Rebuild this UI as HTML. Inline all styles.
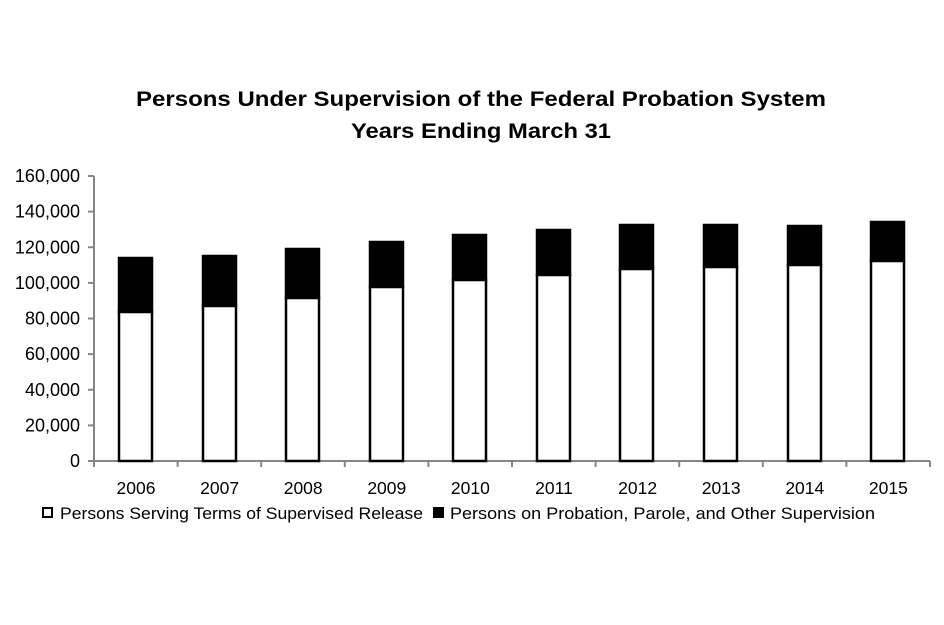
<!DOCTYPE html>
<html><head><style>body{margin:0;background:#fff}svg{display:block}</style></head><body>
<svg width="944" height="625" xmlns="http://www.w3.org/2000/svg" font-family="Liberation Sans, sans-serif">
<rect width="944" height="625" fill="#fff"/>
<text x="481" y="106" text-anchor="middle" font-size="21" font-weight="bold" textLength="690" lengthAdjust="spacingAndGlyphs">Persons Under Supervision of the Federal Probation System</text>
<text x="481" y="138" text-anchor="middle" font-size="21" font-weight="bold" textLength="260" lengthAdjust="spacingAndGlyphs">Years Ending March 31</text>
<g stroke="#868686" stroke-width="2">
<line x1="94" y1="176" x2="94" y2="462"/>
<line x1="93" y1="461" x2="930" y2="461"/>
<line x1="88" y1="176" x2="94" y2="176"/><line x1="88" y1="211.6" x2="94" y2="211.6"/><line x1="88" y1="247.25" x2="94" y2="247.25"/><line x1="88" y1="282.9" x2="94" y2="282.9"/><line x1="88" y1="318.5" x2="94" y2="318.5"/><line x1="88" y1="354.1" x2="94" y2="354.1"/><line x1="88" y1="389.75" x2="94" y2="389.75"/><line x1="88" y1="425.4" x2="94" y2="425.4"/><line x1="88" y1="461" x2="94" y2="461"/>
<line x1="94" y1="461" x2="94" y2="467"/><line x1="177.6" y1="461" x2="177.6" y2="467"/><line x1="261.2" y1="461" x2="261.2" y2="467"/><line x1="344.8" y1="461" x2="344.8" y2="467"/><line x1="428.4" y1="461" x2="428.4" y2="467"/><line x1="512" y1="461" x2="512" y2="467"/><line x1="595.6" y1="461" x2="595.6" y2="467"/><line x1="679.2" y1="461" x2="679.2" y2="467"/><line x1="762.8" y1="461" x2="762.8" y2="467"/><line x1="846.4" y1="461" x2="846.4" y2="467"/><line x1="930" y1="461" x2="930" y2="467"/>
</g>
<g font-size="18" text-anchor="end">
<text x="80" y="182">160,000</text><text x="80" y="217.6">140,000</text><text x="80" y="253.25">120,000</text><text x="80" y="288.9">100,000</text><text x="80" y="324.5">80,000</text><text x="80" y="360.1">60,000</text><text x="80" y="395.75">40,000</text><text x="80" y="431.4">20,000</text><text x="80" y="467">0</text>
</g>
<g stroke="#000" stroke-width="2.5">
<rect x="119" y="258" width="33" height="54" fill="#000"/><rect x="119" y="312" width="33" height="149" fill="#fff"/>
<rect x="203" y="256" width="33" height="50" fill="#000"/><rect x="203" y="306" width="33" height="155" fill="#fff"/>
<rect x="286" y="249" width="33" height="49" fill="#000"/><rect x="286" y="298" width="33" height="163" fill="#fff"/>
<rect x="370" y="242" width="33" height="45" fill="#000"/><rect x="370" y="287" width="33" height="174" fill="#fff"/>
<rect x="453" y="235" width="33" height="45" fill="#000"/><rect x="453" y="280" width="33" height="181" fill="#fff"/>
<rect x="537" y="230" width="33" height="45" fill="#000"/><rect x="537" y="275" width="33" height="186" fill="#fff"/>
<rect x="620" y="225" width="33" height="44" fill="#000"/><rect x="620" y="269" width="33" height="192" fill="#fff"/>
<rect x="704" y="225" width="33" height="42" fill="#000"/><rect x="704" y="267" width="33" height="194" fill="#fff"/>
<rect x="788" y="226" width="33" height="39" fill="#000"/><rect x="788" y="265" width="33" height="196" fill="#fff"/>
<rect x="871" y="222" width="33" height="39" fill="#000"/><rect x="871" y="261" width="33" height="200" fill="#fff"/>
</g>
<g font-size="17.5" text-anchor="middle">
<text x="136" y="494">2006</text><text x="219.6" y="494">2007</text><text x="303.2" y="494">2008</text><text x="386.8" y="494">2009</text><text x="470.4" y="494">2010</text><text x="554" y="494">2011</text><text x="637.6" y="494">2012</text><text x="721.2" y="494">2013</text><text x="804.8" y="494">2014</text><text x="888.4" y="494">2015</text>
</g>
<rect x="43" y="508" width="9" height="9" fill="#fff" stroke="#000" stroke-width="2"/>
<text x="60" y="519" font-size="17" textLength="363" lengthAdjust="spacingAndGlyphs">Persons Serving Terms of Supervised Release</text>
<rect x="433" y="507" width="11" height="11" fill="#000"/>
<text x="450" y="519" font-size="17" textLength="425" lengthAdjust="spacingAndGlyphs">Persons on Probation, Parole, and Other Supervision</text>
</svg>
</body></html>
